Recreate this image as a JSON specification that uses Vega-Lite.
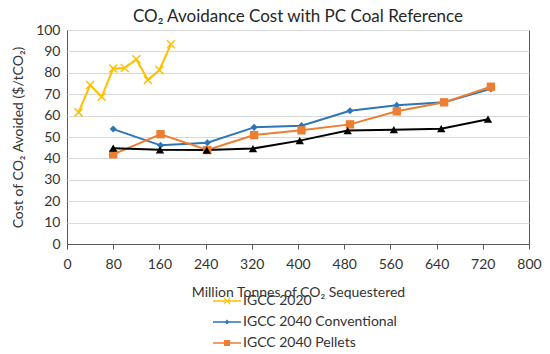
{
  "$schema": "https://vega.github.io/schema/vega-lite/v6.json",
  "width": 462,
  "height": 214,
  "autosize": {"type": "none"},
  "padding": {"left": 67, "top": 30, "right": 21, "bottom": 110},
  "background": "white",
  "config": {
    "font": "Lato",
    "view": {"stroke": "#595959", "strokeWidth": 1},
    "axis": {"labelFont": "Lato", "titleFont": "Lato", "labelColor": "#333333", "titleColor": "#333333", "labelFontSize": 14, "titleFontSize": 14, "titleFontWeight": "normal"},
    "legend": {"labelFont": "Lato", "labelFontSize": 14, "labelColor": "#333333"}
  },
  "title": {"text": "CO₂ Avoidance Cost with PC Coal Reference", "fontSize": 17, "fontWeight": "normal", "font": "Lato", "color": "#262626", "offset": 6, "dy": 9},
  "data": {"values": [
    {"series": "IGCC 2020", "x": 20, "y": 61.5},
    {"series": "IGCC 2020", "x": 40, "y": 74.3},
    {"series": "IGCC 2020", "x": 60, "y": 68.8},
    {"series": "IGCC 2020", "x": 80, "y": 82.0},
    {"series": "IGCC 2020", "x": 100, "y": 82.2},
    {"series": "IGCC 2020", "x": 120, "y": 86.3},
    {"series": "IGCC 2020", "x": 140, "y": 76.6},
    {"series": "IGCC 2020", "x": 160, "y": 81.3},
    {"series": "IGCC 2020", "x": 180, "y": 93.3},
    {"series": "IGCC 2040 Conventional", "x": 80, "y": 53.7},
    {"series": "IGCC 2040 Conventional", "x": 162, "y": 46.1},
    {"series": "IGCC 2040 Conventional", "x": 243, "y": 47.3},
    {"series": "IGCC 2040 Conventional", "x": 324, "y": 54.5},
    {"series": "IGCC 2040 Conventional", "x": 406, "y": 55.3},
    {"series": "IGCC 2040 Conventional", "x": 490, "y": 62.3},
    {"series": "IGCC 2040 Conventional", "x": 571, "y": 64.8},
    {"series": "IGCC 2040 Conventional", "x": 653, "y": 66.2},
    {"series": "IGCC 2040 Conventional", "x": 734, "y": 72.5},
    {"series": "IGCC 2040 Pellets", "x": 80, "y": 41.9},
    {"series": "IGCC 2040 Pellets", "x": 162, "y": 51.3},
    {"series": "IGCC 2040 Pellets", "x": 243, "y": 43.9},
    {"series": "IGCC 2040 Pellets", "x": 324, "y": 50.9},
    {"series": "IGCC 2040 Pellets", "x": 406, "y": 53.1},
    {"series": "IGCC 2040 Pellets", "x": 490, "y": 55.9},
    {"series": "IGCC 2040 Pellets", "x": 571, "y": 62.0},
    {"series": "IGCC 2040 Pellets", "x": 653, "y": 66.2},
    {"series": "IGCC 2040 Pellets", "x": 734, "y": 73.5},
    {"series": "IGCC 2040 Other", "x": 80, "y": 44.8},
    {"series": "IGCC 2040 Other", "x": 161, "y": 44.0},
    {"series": "IGCC 2040 Other", "x": 242, "y": 43.9},
    {"series": "IGCC 2040 Other", "x": 322, "y": 44.6},
    {"series": "IGCC 2040 Other", "x": 403, "y": 48.3},
    {"series": "IGCC 2040 Other", "x": 486, "y": 53.0},
    {"series": "IGCC 2040 Other", "x": 566, "y": 53.4},
    {"series": "IGCC 2040 Other", "x": 648, "y": 53.9},
    {"series": "IGCC 2040 Other", "x": 729, "y": 58.3}
  ]},
  "encoding": {
    "x": {"field": "x", "type": "quantitative", "scale": {"domain": [0, 800], "nice": false},
      "axis": {"values": [0, 80, 160, 240, 320, 400, 480, 560, 640, 720, 800], "grid": false, "domainColor": "#595959", "tickColor": "#595959", "tickSize": 5, "labelPadding": 8, "labelFlush": false,
        "title": "Million Tonnes of CO₂ Sequestered", "titleY": 48, "titleBaseline": "middle"}},
    "y": {"field": "y", "type": "quantitative", "scale": {"domain": [0, 100], "nice": false},
      "axis": {"values": [0, 10, 20, 30, 40, 50, 60, 70, 80, 90, 100], "grid": true, "gridColor": "#d9d9d9", "domain": false, "ticks": false, "labelPadding": 7,
        "title": "Cost of CO₂ Avoided ($/tCO₂)", "titleX": -49, "titleY": 107, "titleAlign": "center", "titleBaseline": "middle", "titleAngle": -90}}
  },
  "layer": [
    {
      "mark": {"type": "line", "strokeWidth": 2},
      "encoding": {
        "color": {"field": "series", "type": "nominal", "legend": null,
          "scale": {"domain": ["IGCC 2020", "IGCC 2040 Conventional", "IGCC 2040 Pellets", "IGCC 2040 Other"], "range": ["#FFC000", "#2E75B6", "#ED7D31", "#000000"]}}
      }
    },
    {
      "transform": [{"filter": "datum.series == 'IGCC 2020'"}],
      "mark": {"type": "point", "filled": false, "shape": "M-1,-1L1,1M-1,1L1,-1", "size": 64, "strokeWidth": 1.5, "opacity": 1},
      "encoding": {"color": {"field": "series", "type": "nominal", "legend": null}}
    },
    {
      "transform": [{"filter": "datum.series == 'IGCC 2040 Conventional'"}],
      "mark": {"type": "point", "filled": true, "shape": "diamond", "size": 50, "opacity": 1},
      "encoding": {"color": {"field": "series", "type": "nominal", "legend": null}}
    },
    {
      "transform": [{"filter": "datum.series == 'IGCC 2040 Pellets'"}],
      "mark": {"type": "point", "filled": true, "shape": "square", "size": 70, "opacity": 1},
      "encoding": {"color": {"field": "series", "type": "nominal", "legend": null}}
    },
    {
      "transform": [{"filter": "datum.series == 'IGCC 2040 Other'"}],
      "mark": {"type": "point", "filled": true, "shape": "triangle-up", "size": 70, "opacity": 1},
      "encoding": {"color": {"field": "series", "type": "nominal", "legend": null}}
    },
    {
      "transform": [{"filter": "false"}],
      "mark": {"type": "point", "filled": true, "opacity": 1},
      "encoding": {
        "fill": {"field": "series", "type": "nominal",
          "scale": {"domain": ["IGCC 2020", "IGCC 2040 Conventional", "IGCC 2040 Pellets"], "range": ["#FFC000", "#2E75B6", "#ED7D31"]},
          "legend": {"title": null, "orient": "none", "legendX": 146, "legendY": 257, "direction": "vertical", "symbolSize": 784, "labelOffset": 2, "rowPadding": -6, "symbolStrokeWidth": 0, "symbolOpacity": 1}},
        "shape": {"field": "series", "type": "nominal",
          "scale": {"domain": ["IGCC 2020", "IGCC 2040 Conventional", "IGCC 2040 Pellets"],
            "range": [
              "M-1,-0.055H1V0.055H-1Z M-0.25,-0.19L-0.19,-0.25L0.25,0.19L0.19,0.25Z M-0.25,0.19L-0.19,0.25L0.25,-0.19L0.19,-0.25Z",
              "M-1,-0.055H1V0.055H-1Z M0,-0.17L0.17,0L0,0.17L-0.17,0Z",
              "M-1,-0.055H1V0.055H-1Z M-0.22,-0.22H0.22V0.22H-0.22Z"]},
          "legend": {"title": null, "orient": "none", "legendX": 146, "legendY": 257, "direction": "vertical", "symbolSize": 784, "labelOffset": 2, "rowPadding": -6, "symbolStrokeWidth": 0, "symbolOpacity": 1}}
      }
    }
  ]
}
